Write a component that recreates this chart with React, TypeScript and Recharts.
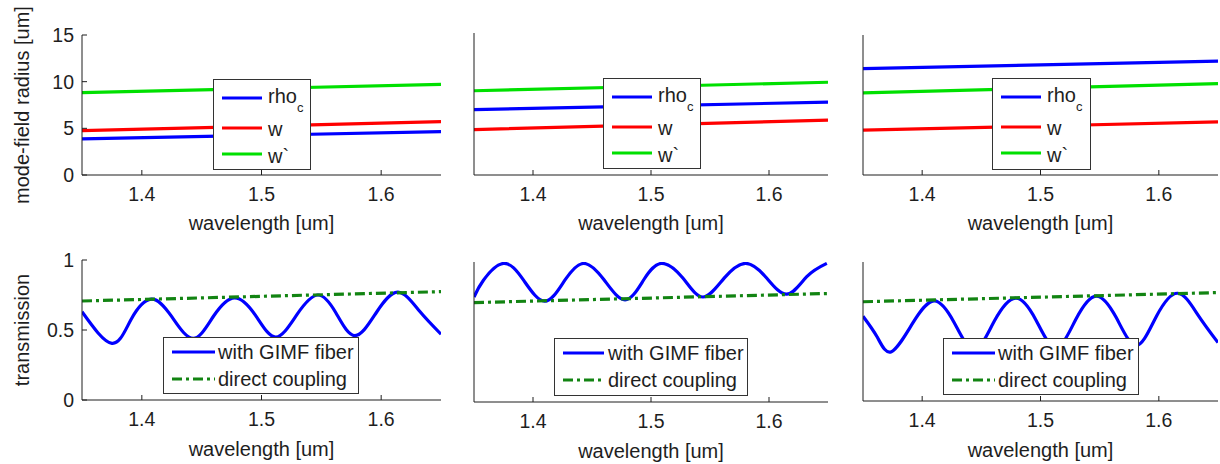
import React from 'react';
import { LineChart, Line, XAxis, YAxis, Legend, Label } from 'recharts';

const FONT = '"Liberation Sans", Arial, Helvetica, sans-serif';
const INK = '#1e1e1e';

// top row: mode-field radius vs wavelength (straight lines)
const WAVE_TOP = [1.35, 1.5, 1.65];
const RHO_A = [3.86, 4.26, 4.65];
const W_A = [4.75, 5.23, 5.71];
const WP_A = [8.82, 9.27, 9.72];
const RHO_B = [6.9, 7.3, 7.7];
const W_B = [4.8, 5.3, 5.8];
const WP_B = [8.9, 9.35, 9.8];
const RHO_C = [11.4, 11.8, 12.2];
const W_C = [4.8, 5.25, 5.7];
const WP_C = [8.8, 9.3, 9.8];

// bottom row: transmission
const GIMF_X_A = [1.35, 1.375, 1.391, 1.408, 1.425, 1.443, 1.46, 1.4775, 1.495, 1.512, 1.53, 1.547, 1.562, 1.578, 1.596, 1.614, 1.632, 1.65];
const GIMF_A = [0.63, 0.405, 0.575, 0.72, 0.595, 0.44, 0.6, 0.73, 0.605, 0.45, 0.615, 0.75, 0.625, 0.46, 0.625, 0.77, 0.635, 0.47];
const GIMF_X_B = [1.35, 1.358, 1.375, 1.392, 1.41, 1.427, 1.443, 1.46, 1.478, 1.494, 1.509, 1.527, 1.544, 1.562, 1.58, 1.597, 1.615, 1.632, 1.649];
const GIMF_B = [0.75, 0.87, 0.99, 0.87, 0.72, 0.87, 0.99, 0.875, 0.73, 0.875, 0.99, 0.885, 0.75, 0.885, 0.99, 0.895, 0.77, 0.895, 0.99];
const GIMF_X_C = [1.35, 1.362, 1.374, 1.392, 1.41, 1.427, 1.444, 1.461, 1.479, 1.496, 1.513, 1.53, 1.547, 1.564, 1.581, 1.598, 1.616, 1.633, 1.65];
const GIMF_C = [0.61, 0.46, 0.355, 0.56, 0.72, 0.565, 0.37, 0.575, 0.74, 0.585, 0.385, 0.59, 0.755, 0.6, 0.4, 0.61, 0.775, 0.62, 0.42];
const DIRECT_X = [1.35, 1.65];
const DIRECT_A = [0.707, 0.774];
const DIRECT_B = [0.71, 0.775];
const DIRECT_C = [0.714, 0.78];

const X_TICKS = [1.4, 1.5, 1.6];
const TOP_Y_TICKS = [0, 5, 10, 15];
const BOT_Y_TICKS = [0, 0.5, 1];

const ML = 80;
const MT = 30;
const MB = 70;
const MR = 2;

const zip = (xs: number[], ys: number[]) => xs.map((x, i) => ({ x, y: ys[i] }));

type Series = { name: string; data: { x: number; y: number }[]; color: string; dash?: string; smooth?: boolean };
type LegendRow = { label: string; sub?: string; color: string; dash?: string; lineY: number; textY: number };
type LegendBox = { x: number; y: number; w: number; h: number; sw: [number, number]; textX: number; rows: LegendRow[] };

type PanelProps = {
  left: number;
  top: number;
  w: number;
  h: number;
  yDomain: [number, number];
  yTicks: number[];
  yLabel?: string;
  xLabelGap: number;
  series: Series[];
  legend: LegendBox;
};

function LegendContent({ box }: { box: LegendBox }) {
  return (
    <svg width={box.w} height={box.h} style={{ display: 'block' }}>
      <rect x={0.5} y={0.5} width={box.w - 1} height={box.h - 1} fill="#fff" stroke="#333" strokeWidth={1} />
      {box.rows.map((r) => (
        <g key={r.label}>
          <line x1={box.sw[0]} x2={box.sw[1]} y1={r.lineY} y2={r.lineY} stroke={r.color} strokeWidth={3} strokeDasharray={r.dash} />
          <text x={box.textX} y={r.textY} fontSize={20} fill={INK} fontFamily={FONT}>
            {r.label}
            {r.sub && (
              <tspan dy={9} fontSize={13}>
                {r.sub}
              </tspan>
            )}
          </text>
        </g>
      ))}
    </svg>
  );
}

function Panel(p: PanelProps) {
  const ox = p.left - ML;
  const oy = p.top - MT;
  const box = p.legend;
  return (
    <div style={{ position: 'absolute', left: ox, top: oy }}>
      <LineChart width={p.w + ML + MR} height={p.h + MT + MB} margin={{ top: MT, right: MR, left: 0, bottom: 0 }}>
        <XAxis
          xAxisId="b"
          type="number"
          dataKey="x"
          domain={[1.35, 1.65]}
          ticks={X_TICKS}
          allowDataOverflow
          height={MB}
          tickSize={-5}
          tickMargin={17}
          stroke={INK}
          tick={{ fill: INK, fontSize: 19.5, fontFamily: FONT }}
          tickFormatter={(v: number) => v.toFixed(1)}
        >
          <Label
            content={({ viewBox }: any) => (
              <text
                x={viewBox.x + viewBox.width / 2}
                y={viewBox.y + p.xLabelGap}
                textAnchor="middle"
                fontSize={20}
                fill={INK}
                fontFamily={FONT}
              >
                wavelength [um]
              </text>
            )}
          />
        </XAxis>
        <XAxis
          xAxisId="t"
          orientation="top"
          type="number"
          dataKey="x"
          domain={[1.35, 1.65]}
          ticks={X_TICKS}
          allowDataOverflow
          height={0}
          tickSize={-5}
          stroke={INK}
          tick={false}
        />
        <YAxis
          yAxisId="l"
          type="number"
          domain={p.yDomain}
          ticks={p.yTicks}
          allowDataOverflow
          width={ML}
          tickSize={-5}
          tickMargin={13}
          stroke={INK}
          tick={p.yLabel ? { fill: INK, fontSize: 19.5, fontFamily: FONT } : false}
        >
          {p.yLabel && (
            <Label
              content={({ viewBox }: any) => {
                const cx = 22 - ox;
                const cy = viewBox.y + viewBox.height / 2;
                return (
                  <text
                    x={cx}
                    y={cy}
                    transform={`rotate(-90 ${cx} ${cy})`}
                    textAnchor="middle"
                    dominantBaseline="central"
                    fontSize={20}
                    fill={INK}
                    fontFamily={FONT}
                  >
                    {p.yLabel}
                  </text>
                );
              }}
            />
          )}
        </YAxis>
        <YAxis
          yAxisId="r"
          orientation="right"
          type="number"
          domain={p.yDomain}
          ticks={p.yTicks}
          allowDataOverflow
          width={0}
          tickSize={-5}
          stroke={INK}
          tick={false}
        />
        {p.series.map((s) => (
          <Line
            key={s.name}
            xAxisId="b"
            yAxisId="l"
            data={s.data}
            dataKey="y"
            name={s.name}
            type={s.smooth ? 'natural' : 'linear'}
            stroke={s.color}
            strokeWidth={3.2}
            strokeDasharray={s.dash}
            dot={false}
            activeDot={false}
            isAnimationActive={false}
          />
        ))}
        <Legend
          layout="horizontal"
          verticalAlign="middle"
          align="center"
          wrapperStyle={{ left: box.x - ox, top: box.y - oy, width: box.w, height: box.h }}
          content={() => <LegendContent box={box} />}
        />
      </LineChart>
    </div>
  );
}

const BLUE = '#0000ff';
const RED = '#ff0000';
const GREEN = '#00e000';
const DGREEN = '#128412';
const DASHDOT = '10 4 3 4';

const topRows = (): LegendRow[] => [
  { label: 'rho', sub: 'c', color: BLUE, lineY: 19, textY: 24 },
  { label: 'w', color: RED, lineY: 49, textY: 57 },
  { label: 'w`', color: GREEN, lineY: 75, textY: 84 },
];
const botRows = (): LegendRow[] => [
  { label: 'with GIMF fiber', color: BLUE, lineY: 15, textY: 22 },
  { label: 'direct coupling', color: DGREEN, dash: DASHDOT, lineY: 42, textY: 49 },
];

const topSeries = (rho: number[], w: number[], wp: number[]): Series[] => [
  { name: 'rho_c', data: zip(WAVE_TOP, rho), color: BLUE },
  { name: 'w', data: zip(WAVE_TOP, w), color: RED },
  { name: "w'", data: zip(WAVE_TOP, wp), color: GREEN },
];
const botSeries = (gx: number[], g: number[], d: number[]): Series[] => [
  { name: 'gimf', data: zip(gx, g), color: BLUE, smooth: true },
  { name: 'direct', data: zip(DIRECT_X, d), color: DGREEN, dash: DASHDOT },
];

export default function App() {
  return (
    <div style={{ position: 'absolute', left: 0, top: 0, width: 1220, height: 464, background: '#fff', fontFamily: FONT, overflow: 'hidden' }}>
      <Panel
        left={82} top={35} w={359} h={140}
        yDomain={[0, 15]} yTicks={TOP_Y_TICKS} yLabel="mode-field radius [um]" xLabelGap={55}
        series={topSeries(RHO_A, W_A, WP_A)}
        legend={{ x: 213, y: 79, w: 98, h: 91, sw: [9, 49], textX: 55, rows: topRows() }}
      />
      <Panel
        left={474} top={33} w={354} h={142}
        yDomain={[0, 15]} yTicks={TOP_Y_TICKS} xLabelGap={55}
        series={topSeries(RHO_B, W_B, WP_B)}
        legend={{ x: 603, y: 78, w: 98, h: 91, sw: [9, 49], textX: 55, rows: topRows() }}
      />
      <Panel
        left={863} top={35} w={355} h={140}
        yDomain={[0, 15]} yTicks={TOP_Y_TICKS} xLabelGap={55}
        series={topSeries(RHO_C, W_C, WP_C)}
        legend={{ x: 992, y: 78, w: 99, h: 92, sw: [9, 49], textX: 55, rows: topRows() }}
      />
      <Panel
        left={82} top={260} w={359} h={140}
        yDomain={[0, 1]} yTicks={BOT_Y_TICKS} yLabel="transmission" xLabelGap={56}
        series={botSeries(GIMF_X_A, GIMF_A, DIRECT_A)}
        legend={{ x: 163, y: 337, w: 196, h: 57, sw: [9, 52], textX: 55, rows: botRows() }}
      />
      <Panel
        left={474} top={262} w={354} h={140}
        yDomain={[0, 1]} yTicks={BOT_Y_TICKS} xLabelGap={56}
        series={botSeries(GIMF_X_B, GIMF_B, DIRECT_B)}
        legend={{ x: 554, y: 338, w: 194, h: 58, sw: [9, 50], textX: 54, rows: botRows() }}
      />
      <Panel
        left={863} top={262} w={355} h={139}
        yDomain={[0, 1]} yTicks={BOT_Y_TICKS} xLabelGap={56}
        series={botSeries(GIMF_X_C, GIMF_C, DIRECT_C)}
        legend={{ x: 943, y: 338, w: 196, h: 57, sw: [9, 52], textX: 55, rows: botRows() }}
      />
    </div>
  );
}
